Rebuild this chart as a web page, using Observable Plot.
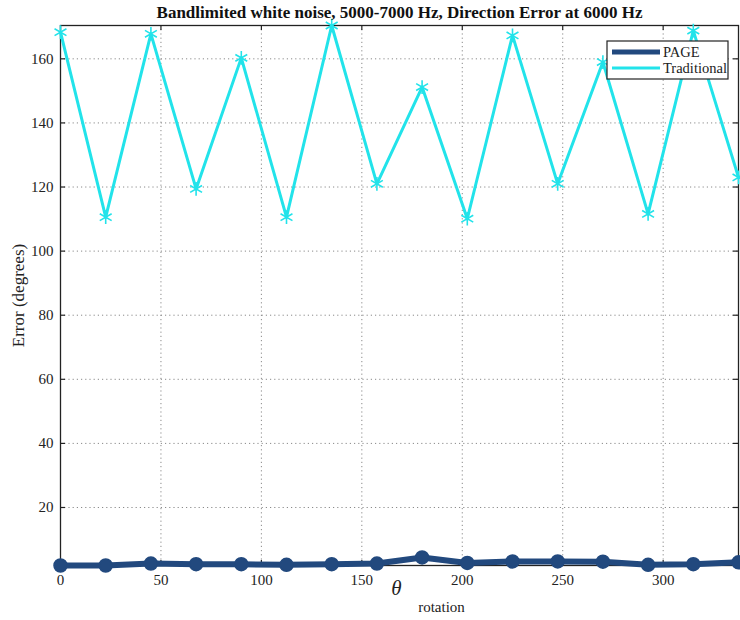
<!DOCTYPE html>
<html>
<head>
<meta charset="utf-8">
<script src="https://cdn.jsdelivr.net/npm/d3@7"></script>
<script src="https://cdn.jsdelivr.net/npm/@observablehq/plot@0.6"></script>
<style>
  html, body { margin: 0; padding: 0; background: #fff; }
  #chart svg { display: block; }
  #chart svg text { font-family: 'Liberation Serif', 'Times New Roman', serif !important; }
</style>
</head>
<body>
<div id="chart"></div>
<script>
// Rotation angles (degrees)
const theta = [0, 22.5, 45, 67.5, 90, 112.5, 135, 157.5, 180, 202.5, 225, 247.5, 270, 292.5, 315, 337.5];
// Direction error (degrees)
const pageErr = [1.9, 1.9, 2.5, 2.3, 2.3, 2.1, 2.3, 2.5, 4.4, 2.7, 3.15, 3.15, 3.1, 2.1, 2.3, 2.9];
const tradErr = [168.3, 110.6, 167.8, 119.4, 160.3, 110.6, 170.4, 121, 151.2, 110.1, 167.3, 121, 159, 111.6, 168.8, 123];

const xTicks = [0, 50, 100, 150, 200, 250, 300];
const yTicks = [20, 40, 60, 80, 100, 120, 140, 160];
const seriesNames = ["PAGE", "Traditional"];

const titleText = "Bandlimited white noise, 5000-7000 Hz, Direction Error at 6000 Hz";
const yLabel = "Error (degrees)";

const navy = "#22497e";
const cyan = "#22e3ea";
const font = "Liberation Serif";

const rows = theta.map((t, i) => ({theta: t, page: pageErr[i], trad: tradErr[i]}));

const W = 740, H = 620, mT = 25, mL = 60, mR = 2, mB = 55;
const innerW = W - mL - mR, innerH = H - mT - mB;
const tick = 5;

const chart = Plot.plot({
  width: W, height: H,
  marginTop: mT, marginLeft: mL, marginRight: mR, marginBottom: mB,
  style: {fontFamily: font, fontSize: "15px", background: "#fff", color: "#222", overflow: "visible"},
  x: {domain: [0, 337.5]},
  y: {domain: [1.9, 170.4]},
  marks: [
    Plot.gridX(xTicks, {stroke: "#8a8a8a", strokeOpacity: 1, strokeWidth: 1, strokeDasharray: "1.2,3"}),
    Plot.gridY(yTicks, {stroke: "#8a8a8a", strokeOpacity: 1, strokeWidth: 1, strokeDasharray: "1.2,3"}),
    Plot.frame({stroke: "#222", strokeWidth: 1.3}),
    // inward ticks
    Plot.ruleX(xTicks, {x: d => d, insetTop: innerH - tick, stroke: "#222", strokeWidth: 1.2}),
    Plot.ruleX(xTicks, {x: d => d, insetBottom: innerH - tick, stroke: "#222", strokeWidth: 1.2}),
    Plot.ruleY(yTicks, {y: d => d, insetRight: innerW - tick, stroke: "#222", strokeWidth: 1.2}),
    Plot.ruleY(yTicks, {y: d => d, insetLeft: innerW - tick, stroke: "#222", strokeWidth: 1.2}),
    Plot.axisX(xTicks, {tickSize: 0, tickPadding: 9, label: null, fontSize: 15, fontFamily: font, fill: "#222"}),
    Plot.axisY(yTicks, {tickSize: 0, tickPadding: 7, label: null, fontSize: 15, fontFamily: font, fill: "#222"}),
    // PAGE
    Plot.line(rows, {x: "theta", y: "page", stroke: navy, strokeWidth: 6, strokeLinejoin: "round"}),
    Plot.dot(rows, {x: "theta", y: "page", r: 6.5, fill: navy, stroke: navy}),
    // Traditional
    Plot.line(rows, {x: "theta", y: "trad", stroke: cyan, strokeWidth: 3}),
    Plot.dot(rows, {x: "theta", y: "trad", symbol: "asterisk", r: 6.5, stroke: cyan, strokeWidth: 1.6}),
    // labels
    Plot.text([titleText], {frameAnchor: "top", dy: -13, lineAnchor: "middle", textAnchor: "middle", fontWeight: "bold", fontSize: 17, fontFamily: font, fill: "#111"}),
    Plot.text([yLabel], {frameAnchor: "left", dx: -42, rotate: -90, textAnchor: "middle", lineAnchor: "middle", fontSize: 17, fontFamily: font, fill: "#222"}),
    Plot.text(["θ"], {frameAnchor: "bottom", dy: 23, dx: -3, lineAnchor: "middle", textAnchor: "middle", fontStyle: "italic", fontSize: 21, fontFamily: font, fill: "#222"}),
    Plot.text(["rotation"], {frameAnchor: "bottom", dy: 42, dx: 42, lineAnchor: "middle", textAnchor: "middle", fontSize: 15, fontFamily: font, fill: "#222"})
  ]
});

// Legend box (top-right inside axes)
const svg = d3.select(chart);
const lg = svg.append("g").attr("font-family", font).attr("font-size", 14.5).attr("text-anchor", "start");
const lx = 607, ly = 41, lw = 121, lh = 38;
lg.append("rect").attr("x", lx).attr("y", ly).attr("width", lw).attr("height", lh)
  .attr("fill", "#fff").attr("stroke", "#222").attr("stroke-width", 1.2);
const legendColors = [navy, cyan];
const legendWidths = [5, 3];
seriesNames.forEach((name, i) => {
  const yy = ly + 11 + i * 16;
  lg.append("line").attr("x1", lx + 5).attr("x2", lx + 53).attr("y1", yy).attr("y2", yy)
    .attr("stroke", legendColors[i]).attr("stroke-width", legendWidths[i]);
  lg.append("text").attr("x", lx + 56).attr("y", yy).attr("dy", "0.35em")
    .attr("text-anchor", "start").attr("fill", "#222").text(name);
});

document.getElementById("chart").appendChild(chart);
</script>
</body>
</html>
